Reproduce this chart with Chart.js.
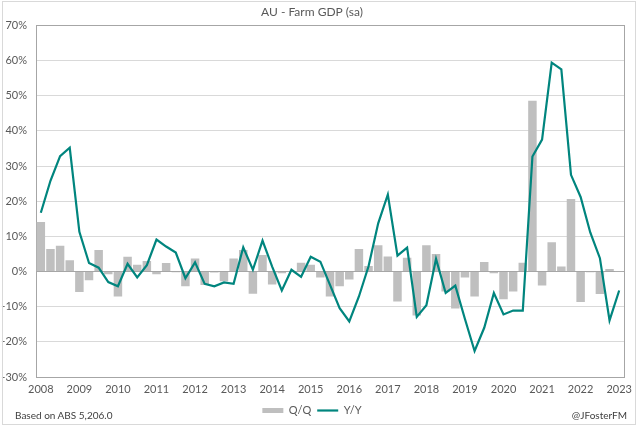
<!DOCTYPE html>
<html lang="en">
  <head>
    <title>AU - Farm GDP (sa)</title>
    <style>
      body { margin: 0; background: #ffffff; }
      #wrap { position: relative; width: 639px; height: 428px; }
      #frame { position: absolute; left: 2px; top: 1px; width: 632px; height: 422px; border: 1px solid #d9d9d9; pointer-events: none; }
      .note { position: absolute; top: 409px; font: 10px Lato, sans-serif; color: #404040; }
      #source { left: 15px; }
      #handle { right: 12px; }
    </style>
  </head>
  <body>
    <div id="wrap">
      <canvas id="chart" width="639" height="428"></canvas>
      <div id="frame"></div>
      <div class="note" id="source">Based on ABS 5,206.0</div>
      <div class="note" id="handle">@JFosterFM</div>
    </div>
    <script src="https://cdn.jsdelivr.net/npm/chart.js"></script>
    <script>
      // quarterly, 2008 Q1 .. 2023 Q1
      let years = ["2008", "2009", "2010", "2011", "2012", "2013", "2014", "2015",
                   "2016", "2017", "2018", "2019", "2020", "2021", "2022", "2023"];

      let qq = [14.1, 6.4, 7.3, 3.2, -5.8, -2.5, 6.1, -0.8,
                -7.1, 4.2, 1.9, 3.0, -0.8, 2.4, -0.2, -4.2,
                3.7, -3.8, -0.3, -2.8, 3.7, 6.1, -6.3, 4.7,
                -3.7, -0.5, 0.1, 2.5, 1.9, -1.7, -7.1, -4.2,
                -2.3, 6.4, 1.6, 7.5, 4.3, -8.5, 3.9, -12.5,
                7.5, 5.0, -5.7, -10.5, -1.7, -7.1, 2.7, -0.5,
                -7.9, -5.7, 2.5, 48.6, -4.0, 8.3, 1.4, 20.6,
                -8.7, -0.2, -6.4, 0.7, -0.1];

      let yy = [16.7, 25.8, 32.8, 35.2, 11.3, 2.4, 1.1, -3.0,
                -4.2, 2.2, -1.7, 1.8, 9.1, 7.1, 5.4, -1.9,
                2.6, -3.5, -4.2, -3.1, -3.5, 6.9, 0.5, 8.8,
                1.4, -5.4, 0.5, -1.5, 4.2, 2.8, -3.8, -10.4,
                -14.2, -7.1, 1.5, 13.7, 21.9, 4.5, 6.8, -12.9,
                -9.6, 3.6, -6.1, -4.0, -13.5, -22.6, -16.0, -6.1,
                -12.2, -11.1, -11.1, 32.7, 37.5, 59.4, 57.5, 27.5,
                21.2, 11.1, 3.8, -13.9, -5.4];

      let labels = qq.map(function (v, i) {
        return i % 4 === 0 ? years[i / 4] : "";
      });

      let textColor = "#595959";

      let plotFrame = {
        id: "plotFrame",
        beforeDatasetsDraw: function (chart) {
          let a = chart.chartArea;
          let ctx = chart.ctx;
          ctx.save();
          ctx.strokeStyle = "#a6a6a6";
          ctx.lineWidth = 1;
          ctx.strokeRect(Math.round(a.left) + 0.5, Math.round(a.top) + 0.5,
                         Math.round(a.right - a.left), Math.round(a.bottom - a.top));
          ctx.restore();
        },
      };

      new Chart(document.getElementById("chart"), {
        data: {
          labels: labels,
          datasets: [
            {
              type: "bar",
              label: "Q/Q",
              data: qq,
              backgroundColor: "#bfbfbf",
              borderWidth: 0,
              barPercentage: 0.88,
              categoryPercentage: 1.0,
              order: 1,
              pointStyle: "rect",
            },
            {
              type: "line",
              label: "Y/Y",
              data: yy,
              borderColor: "#00857e",
              backgroundColor: "#00857e",
              borderWidth: 2.2,
              pointRadius: 0,
              tension: 0,
              order: 0,
              pointStyle: "line",
            },
          ],
        },
        options: {
          responsive: false,
          animation: false,
          layout: { padding: { top: 5, left: 0, right: 15, bottom: 2 } },
          scales: {
            x: {
              offset: true,
              grid: { display: false, drawTicks: false },
              border: { display: false },
              ticks: {
                autoSkip: false,
                maxRotation: 0,
                padding: 6,
                color: textColor,
                font: { family: "Lato", size: 11 },
              },
              afterFit: function (scale) {
                scale.height = 22;
              },
            },
            y: {
              min: -30,
              max: 70,
              grid: {
                drawTicks: false,
                color: function (c) {
                  return c.tick.value === 0 ? "#a6a6a6" : "#d9d9d9";
                },
              },
              border: { display: false },
              ticks: {
                stepSize: 10,
                padding: 9,
                color: textColor,
                font: { family: "Lato", size: 11 },
                callback: function (value) {
                  return value + "%";
                },
              },
              afterFit: function (scale) {
                scale.width = 36;
              },
            },
          },
          plugins: {
            title: {
              display: true,
              text: "AU - Farm GDP (sa)",
              color: textColor,
              font: { family: "Lato", size: 12, weight: "normal" },
              padding: { top: 0, bottom: 6 },
            },
            legend: {
              position: "bottom",
              labels: {
                usePointStyle: true,
                pointStyleWidth: 21,
                boxHeight: 5,
                padding: 6,
                color: textColor,
                font: { family: "Lato", size: 11 },
                sort: function (a, b) {
                  return a.datasetIndex - b.datasetIndex;
                },
              },
            },
            tooltip: { enabled: false },
          },
        },
        plugins: [plotFrame],
      });
    </script>
  </body>
</html>
